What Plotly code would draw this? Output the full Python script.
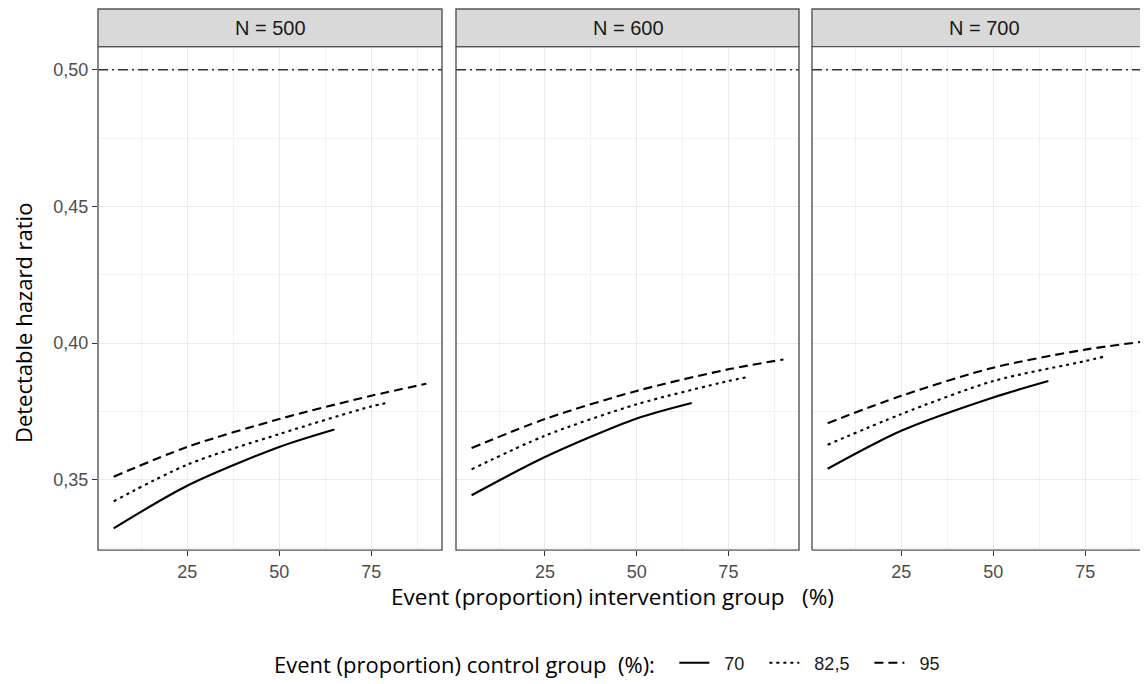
import plotly.graph_objects as go

# ---------------- data ----------------
panels = ["N = 500", "N = 600", "N = 700"]
control_groups = ["70", "82,5", "95"]

x_70 = [5, 25, 50, 65]
x_825 = [5, 25, 50, 75, 80]
x_95 = [5, 25, 50, 75, 90]

hr_500_70 = [0.3322, 0.3478, 0.3620, 0.3684]
hr_500_825 = [0.3421, 0.3555, 0.3667, 0.3768, 0.3783]
hr_500_95 = [0.3511, 0.3620, 0.3722, 0.3807, 0.3851]

hr_600_70 = [0.3443, 0.3583, 0.3724, 0.3781]
hr_600_825 = [0.3538, 0.3661, 0.3776, 0.3861, 0.3875]
hr_600_95 = [0.3616, 0.3722, 0.3825, 0.3904, 0.3940]

hr_700_70 = [0.3540, 0.3679, 0.3801, 0.3861]
hr_700_825 = [0.3628, 0.3740, 0.3861, 0.3934, 0.3950]
hr_700_95 = [0.3707, 0.3807, 0.3910, 0.3976, 0.4004]

reference_hr = 0.50

x_ticks = [25, 50, 75]
x_ticktext = ["25", "50", "75"]
x_minor = [12.5, 37.5, 62.5, 87.5]
y_ticks = [0.35, 0.40, 0.45, 0.50]
y_ticktext = ["0,35", "0,40", "0,45", "0,50"]
y_minor = [0.325, 0.375, 0.425, 0.475]

# ---------------- styling ----------------
# The page body has an 8px margin, so the figure is drawn 8px smaller and
# all pixel positions are shifted by -8 relative to the reference.
OFF = 8
W, H = 1148 - OFF, 684 - OFF
TICK_FONT = "Liberation Sans, Arial, sans-serif"
TITLE_FONT = "Open Sans, Lato, sans-serif"
dashes = ["solid", "3px,4px", "9px,5px"]
series = [
    [(x_70, hr_500_70), (x_825, hr_500_825), (x_95, hr_500_95)],
    [(x_70, hr_600_70), (x_825, hr_600_825), (x_95, hr_600_95)],
    [(x_70, hr_700_70), (x_825, hr_700_825), (x_95, hr_700_95)],
]

px_domains = [(98 - OFF, 442 - OFF), (456 - OFF, 799 - OFF), (812 - OFF, 1148 - OFF)]
x_ranges = [[0.75, 94.25], [0.75, 94.25], [0.75, 0.75 + 336 / 344 * 93.5]]
y_range = [0.32425, 0.50848]
y_top_px, y_bot_px = 46.7 - OFF, 551.7 - OFF
y_dom = [(H - y_bot_px) / H, (H - y_top_px) / H]
strip_top = (H - (9 - OFF)) / H

fig = go.Figure()

NB = "\u00a0"
for p in range(3):
    ax = "" if p == 0 else str(p + 1)
    for s in range(3):
        xs, ys = series[p][s]
        fig.add_trace(go.Scatter(
            x=xs, y=ys, mode="lines",
            line=dict(color="#000000", width=2.1, dash=dashes[s], shape="spline", smoothing=0.8),
            name=NB * 2 + control_groups[s] + NB * 3, legendgroup=control_groups[s],
            showlegend=(p == 0),
            xaxis="x" + ax, yaxis="y" + ax,
        ))

layout = dict(
    width=W, height=H,
    margin=dict(l=0, r=0, t=0, b=0),
    paper_bgcolor="white", plot_bgcolor="white",
    showlegend=True,
    legend=dict(
        orientation="h", x=(616 - OFF) / W, xanchor="center", y=(H - (666 - OFF)) / H, yanchor="middle",
        font=dict(family=TICK_FONT, size=18, color="#1a1a1a"),
        title=dict(text="Event (proportion) control group" + NB * 2 + "(%):" + NB * 2,
                   font=dict(family=TITLE_FONT, size=22, color="#000000"), side="left"),
        itemwidth=30, bgcolor="rgba(0,0,0,0)", traceorder="normal",
    ),
)

shapes = []
annotations = []
bcol = "#555555"
for p in range(3):
    ax = "" if p == 0 else str(p + 1)
    d0, d1 = px_domains[p]
    layout["xaxis" + ax] = dict(
        domain=[d0 / W, d1 / W], range=x_ranges[p], anchor="y" + ax,
        tickvals=x_ticks, ticktext=x_ticktext, ticks="outside", ticklen=5, tickwidth=1.2,
        tickcolor="#333333",
        tickfont=dict(family=TICK_FONT, size=18, color="#4d4d4d"),
        showgrid=True, gridcolor="#ebebeb", gridwidth=1.3, zeroline=False,
        minor=dict(tickvals=x_minor, showgrid=True, gridcolor="#f2f2f2", gridwidth=0.8),
        showline=False,
    )
    layout["yaxis" + ax] = dict(
        domain=y_dom, range=y_range, anchor="x" + ax,
        tickvals=y_ticks, ticktext=y_ticktext,
        showticklabels=(p == 0), ticks="outside" if p == 0 else "", ticklen=5, tickwidth=1.2,
        tickcolor="#333333",
        tickfont=dict(family=TICK_FONT, size=18, color="#4d4d4d"),
        showgrid=True, gridcolor="#ebebeb", gridwidth=1.3, zeroline=False,
        minor=dict(tickvals=y_minor, showgrid=True, gridcolor="#f2f2f2", gridwidth=0.8),
        showline=False,
    )
    # reference line
    shapes.append(dict(type="line", xref="x" + ax + " domain", yref="y" + ax,
                       x0=0, x1=1, y0=reference_hr, y1=reference_hr,
                       line=dict(color="#333333", width=1.6, dash="10px,4px,2px,4px"), layer="above"))
    # panel border
    if p < 2:
        shapes.append(dict(type="rect", xref="x" + ax + " domain", yref="y" + ax + " domain",
                           x0=0, x1=1, y0=0, y1=1, line=dict(color=bcol, width=1.4),
                           fillcolor="rgba(0,0,0,0)", layer="above"))
    else:
        shapes.append(dict(type="line", xref="x" + ax + " domain", yref="y" + ax + " domain",
                           x0=0, x1=0, y0=0, y1=1, line=dict(color=bcol, width=1.4), layer="above"))
        shapes.append(dict(type="line", xref="x" + ax + " domain", yref="y" + ax + " domain",
                           x0=0, x1=1.01, y0=0, y1=0, line=dict(color=bcol, width=1.4), layer="above"))
    # strip
    x1s = d1 / W if p < 2 else 1.01
    shapes.append(dict(type="rect", xref="paper", yref="paper",
                       x0=d0 / W, x1=x1s, y0=y_dom[1], y1=strip_top,
                       line=dict(color=bcol, width=1.4), fillcolor="#d9d9d9", layer="above"))
    annotations.append(dict(text=panels[p], xref="paper", yref="paper",
                            x=(d0 + 172) / W, y=(y_dom[1] + strip_top) / 2,
                            xanchor="center", yanchor="middle", showarrow=False,
                            font=dict(family=TICK_FONT, size=20, color="#1a1a1a")))

annotations.append(dict(text="Event (proportion) intervention group" + NB * 3 + "(%)",
                        xref="paper", yref="paper", x=(612 - OFF) / W, y=(H - (598 - OFF)) / H,
                        xanchor="center", yanchor="middle", showarrow=False,
                        font=dict(family=TITLE_FONT, size=22.5, color="#000000")))
annotations.append(dict(text="Detectable hazard ratio",
                        xref="paper", yref="paper", x=(23 - OFF) / W, y=(H - (324 - OFF)) / H,
                        xanchor="center", yanchor="middle", showarrow=False, textangle=-90,
                        font=dict(family=TITLE_FONT, size=22, color="#000000")))

layout["shapes"] = shapes
layout["annotations"] = annotations
fig.update_layout(**layout)

fig.write_html("out.html")
